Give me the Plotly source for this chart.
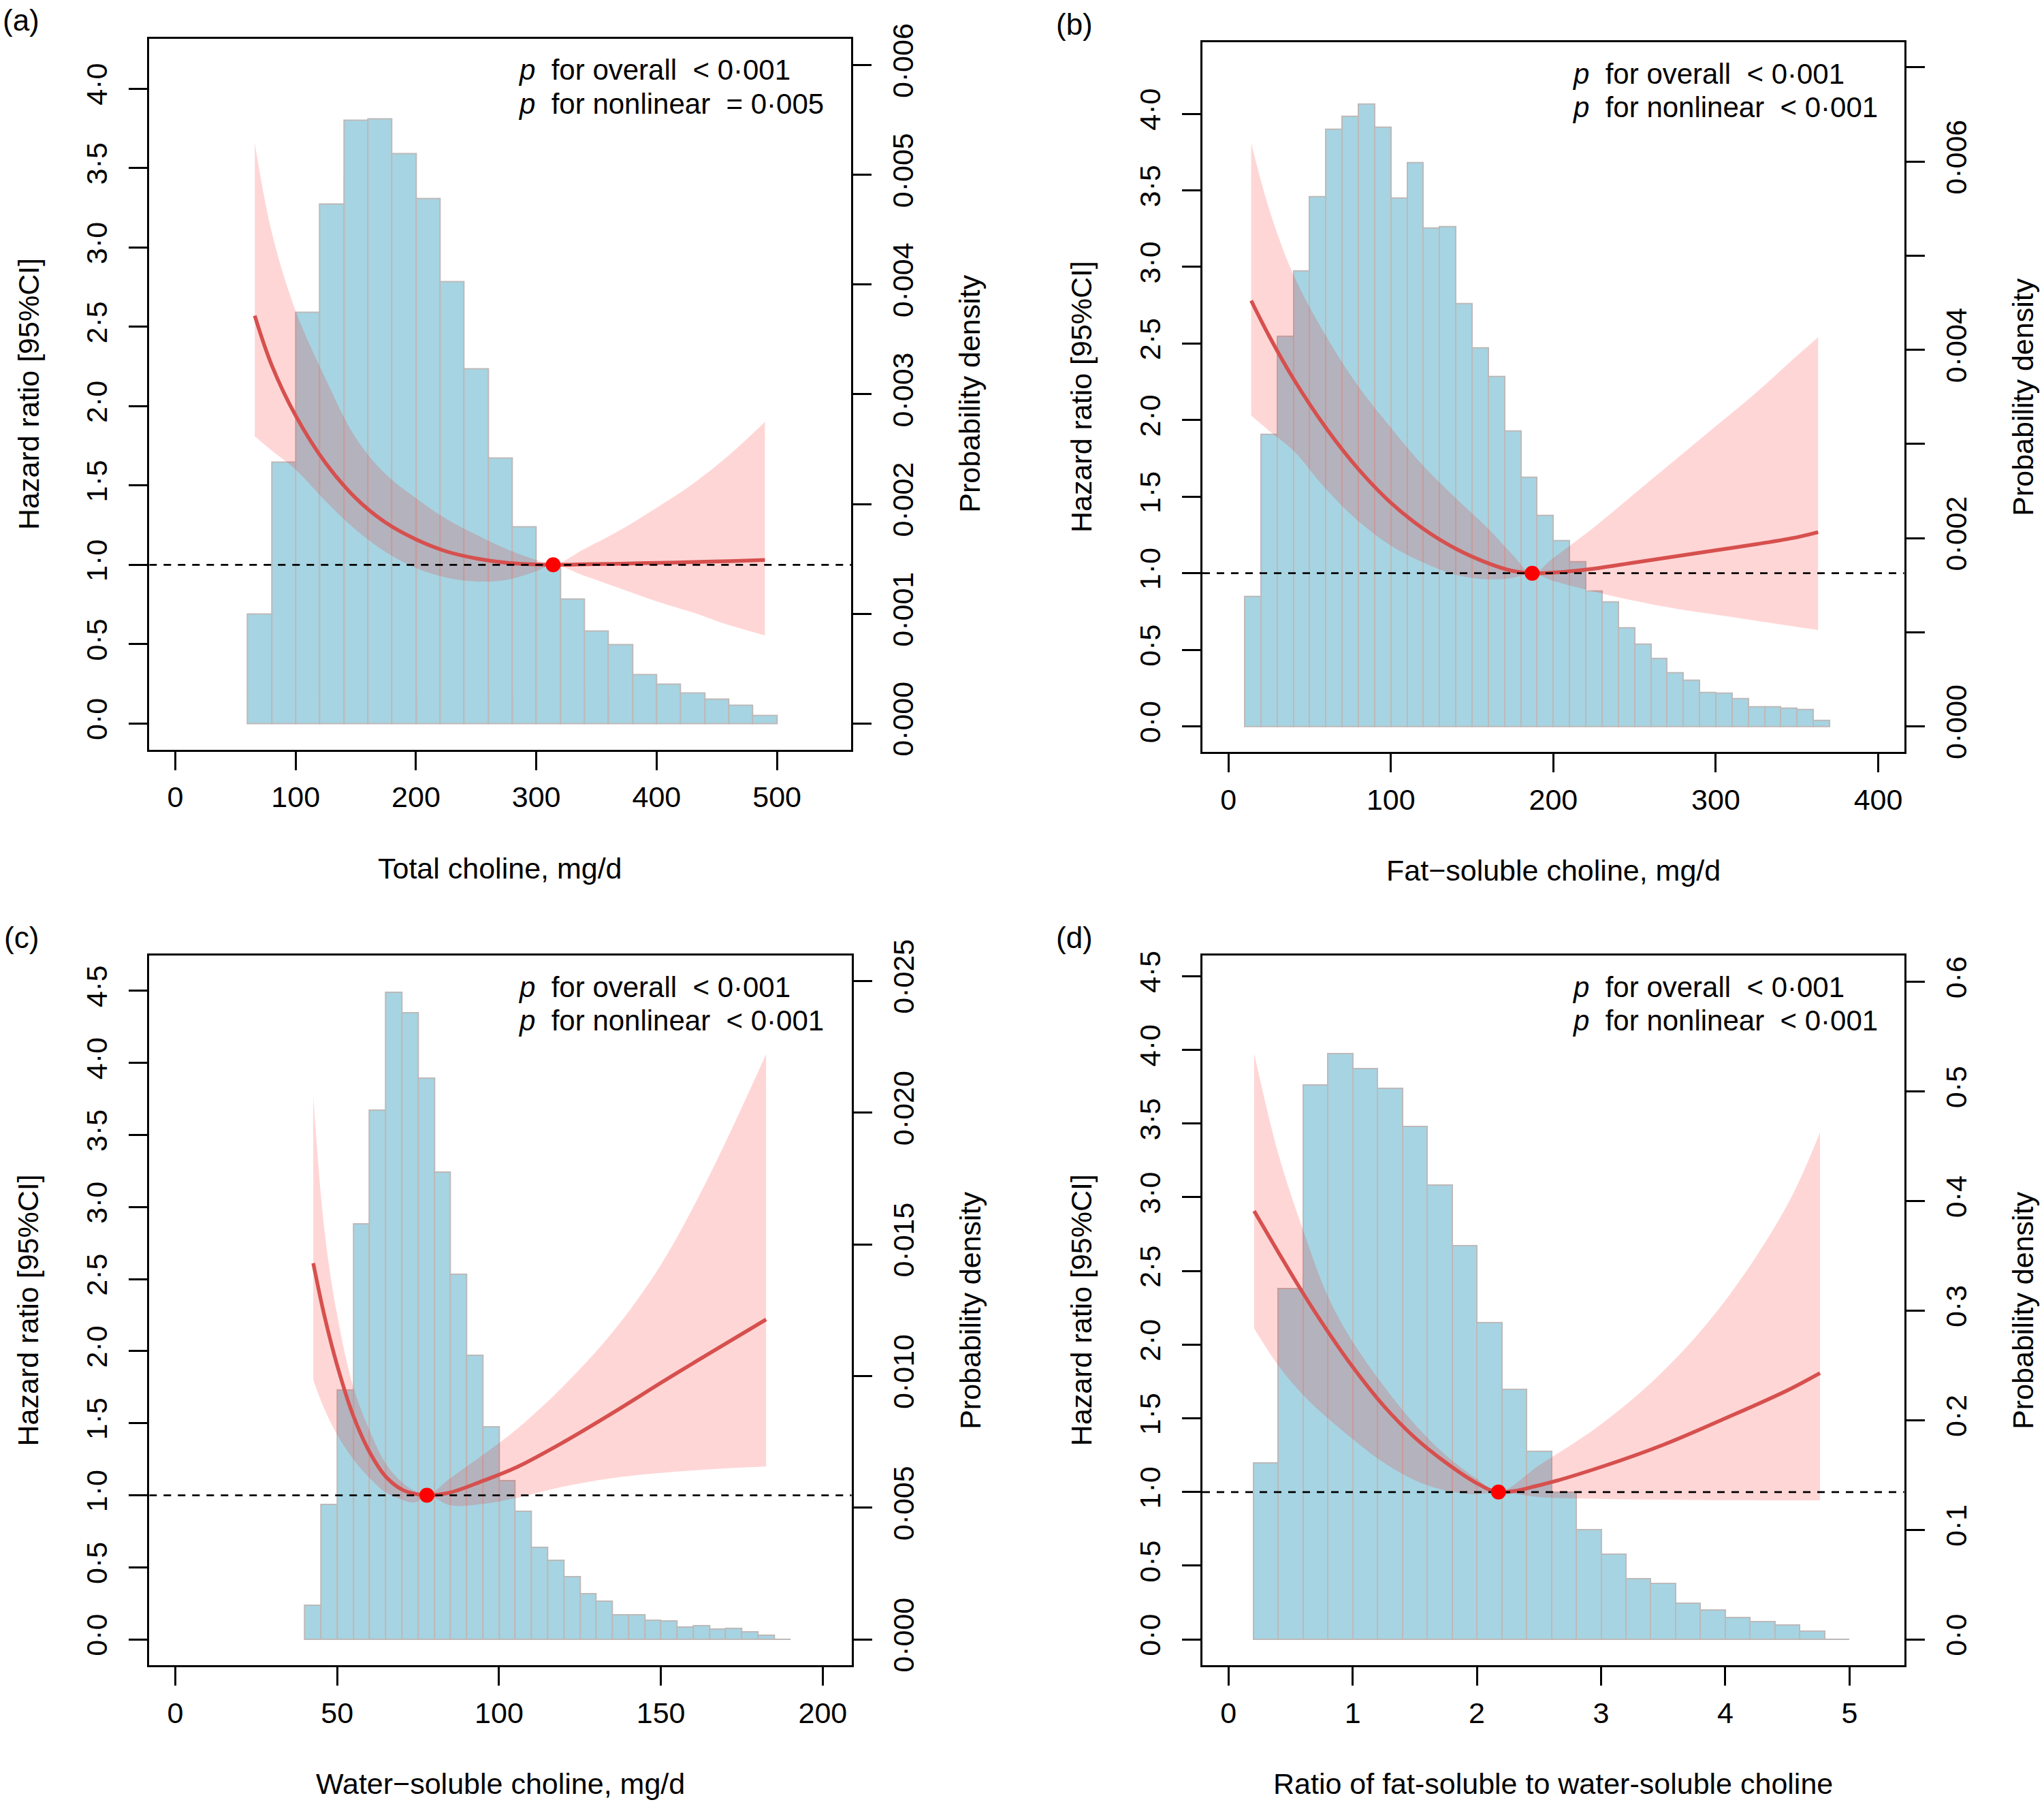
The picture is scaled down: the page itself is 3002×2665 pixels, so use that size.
import plotly.graph_objects as go

W, H = 3002, 2665
FONT = "Liberation Sans, Arial, sans-serif"

# ---------------- data ----------------
# (a) Total choline
a_bin_left = [60, 80, 100, 120, 140, 160, 180, 200, 220, 240, 260, 280, 300, 320, 340, 360, 380, 400, 420, 440, 460, 480]
a_bin_width = 20
a_density = [0.00100, 0.00238, 0.003747, 0.004733, 0.005496, 0.005511, 0.005196, 0.004784, 0.004027, 0.003233, 0.00242,
             0.00179, 0.001439, 0.001134, 0.000844, 0.000717, 0.000447, 0.000356, 0.00028, 0.000224, 0.000163, 0.000071]
a_x = [66, 80, 100, 125, 150, 175, 200, 225, 250, 275, 300, 314, 340, 370, 400, 430, 460, 490]
a_hr = [2.57, 2.26, 1.94, 1.64, 1.42, 1.265, 1.16, 1.085, 1.04, 1.013, 1.002, 1.0, 1.003, 1.007, 1.012, 1.017, 1.023, 1.03]
a_up = [3.66, 3.1, 2.6, 2.17, 1.8, 1.57, 1.42, 1.29, 1.19, 1.10, 1.03, 1.0, 1.1, 1.22, 1.36, 1.51, 1.69, 1.9]
a_lo = [1.81, 1.72, 1.6, 1.4, 1.22, 1.08, 0.98, 0.92, 0.895, 0.905, 0.96, 1.0, 0.93, 0.85, 0.77, 0.7, 0.62, 0.555]
a_ref = 314

# (b) Fat-soluble choline
b_bin_left = list(range(10, 370, 10))
b_bin_width = 10
b_density = [0.001382, 0.003102, 0.004146, 0.00484, 0.005629, 0.006346, 0.006483, 0.006613, 0.006364, 0.005611, 0.00599,
             0.005297, 0.005308, 0.00449, 0.004021, 0.003719, 0.003138, 0.002645, 0.002242, 0.001975, 0.00175, 0.001441,
             0.001323, 0.00105, 0.000872, 0.000718, 0.000569, 0.000492, 0.000362, 0.00035, 0.000291, 0.000208, 0.000208,
             0.00019, 0.000178, 0.000065]
b_x = [14, 25, 40, 60, 80, 100, 120, 140, 160, 175, 187, 200, 225, 250, 275, 300, 325, 350, 363]
b_hr = [2.78, 2.55, 2.27, 1.95, 1.68, 1.46, 1.29, 1.16, 1.065, 1.015, 1.0, 1.004, 1.03, 1.07, 1.11, 1.15, 1.19, 1.235, 1.268]
b_up = [3.81, 3.38, 2.95, 2.55, 2.22, 1.95, 1.7, 1.49, 1.29, 1.12, 1.0, 1.1, 1.3, 1.52, 1.74, 1.96, 2.18, 2.42, 2.54]
b_lo = [2.03, 1.93, 1.8, 1.55, 1.34, 1.18, 1.07, 0.99, 0.96, 0.97, 1.0, 0.95, 0.88, 0.82, 0.77, 0.73, 0.69, 0.65, 0.63]
b_ref = 187

# (c) Water-soluble choline
c_bin_left = list(range(40, 190, 5))
c_bin_width = 5
c_density = [0.001307, 0.005118, 0.009473, 0.015788, 0.0201, 0.024564, 0.0238, 0.0213, 0.017748, 0.013872, 0.010801,
             0.008079, 0.006032, 0.004856, 0.003506, 0.003005, 0.002395, 0.001742, 0.001459, 0.000936, 0.000936,
             0.00074, 0.000719, 0.000479, 0.000523, 0.000392, 0.000414, 0.000283, 0.000174, 0.00002]
c_x = [42.6, 46, 50, 55, 60, 65, 70, 74, 77.7, 85, 95, 105, 120, 135, 150, 165, 182.5]
c_hr = [2.61, 2.25, 1.9, 1.55, 1.3, 1.13, 1.04, 1.01, 1.0, 1.02, 1.10, 1.19, 1.37, 1.57, 1.78, 1.985, 2.22]
c_up = [3.77, 2.85, 2.25, 1.75, 1.45, 1.22, 1.09, 1.03, 1.0, 1.12, 1.28, 1.45, 1.76, 2.13, 2.6, 3.22, 4.06]
c_lo = [1.80, 1.6, 1.42, 1.25, 1.12, 1.02, 0.97, 0.95, 1.0, 0.93, 0.94, 0.98, 1.06, 1.12, 1.155, 1.18, 1.2]
c_ref = 77.7

# (d) Ratio of fat-soluble to water-soluble choline
d_bin_left = [0.2, 0.4, 0.6, 0.8, 1.0, 1.2, 1.4, 1.6, 1.8, 2.0, 2.2, 2.4, 2.6, 2.8, 3.0, 3.2, 3.4, 3.6, 3.8, 4.0, 4.2, 4.4, 4.6, 4.8]
d_bin_width = 0.2
d_density = [0.161, 0.3204, 0.506, 0.5348, 0.5212, 0.5029, 0.4679, 0.4145, 0.3591, 0.2891, 0.2284, 0.172, 0.1343,
             0.1004, 0.0779, 0.0554, 0.0512, 0.0329, 0.0267, 0.0204, 0.0162, 0.0131, 0.0078, 0.0005]
d_x = [0.207, 0.4, 0.6, 0.8, 1.0, 1.25, 1.5, 1.75, 2.0, 2.174, 2.5, 3.0, 3.5, 4.0, 4.5, 4.762]
d_hr = [2.907, 2.63, 2.35, 2.09, 1.85, 1.585, 1.37, 1.2, 1.06, 1.0, 1.045, 1.17, 1.32, 1.5, 1.69, 1.807]
d_up = [3.976, 3.3, 2.78, 2.33, 2.02, 1.72, 1.46, 1.25, 1.09, 1.0, 1.18, 1.46, 1.82, 2.3, 2.95, 3.44]
d_lo = [2.11, 1.86, 1.66, 1.5, 1.36, 1.2, 1.08, 1.01, 0.985, 1.0, 0.966, 0.953, 0.948, 0.945, 0.944, 0.944]
d_ref = 2.174

ref_hr = 1.0

hr_ticks_a = [0, 0.5, 1.0, 1.5, 2.0, 2.5, 3.0, 3.5, 4.0]
hr_ticks_c = [0, 0.5, 1.0, 1.5, 2.0, 2.5, 3.0, 3.5, 4.0, 4.5]
dens_ticks_a = [0, 0.001, 0.002, 0.003, 0.004, 0.005, 0.006]
dens_text_a = ["0·000", "0·001", "0·002", "0·003", "0·004", "0·005", "0·006"]
dens_ticks_b = [0, 0.001, 0.002, 0.003, 0.004, 0.005, 0.006, 0.007]
dens_text_b = ["0·000", "", "0·002", "", "0·004", "", "0·006", ""]
dens_ticks_c = [0, 0.005, 0.010, 0.015, 0.020, 0.025]
dens_text_c = ["0·000", "0·005", "0·010", "0·015", "0·020", "0·025"]
dens_ticks_d = [0, 0.1, 0.2, 0.3, 0.4, 0.5, 0.6]
dens_text_d = ["0·0", "0·1", "0·2", "0·3", "0·4", "0·5", "0·6"]
x_ticks_a = [0, 100, 200, 300, 400, 500]
x_ticks_b = [0, 100, 200, 300, 400]
x_ticks_c = [0, 50, 100, 150, 200]
x_ticks_d = [0, 1, 2, 3, 4, 5]

x_titles = ["Total choline, mg/d", "Fat\u2212soluble choline, mg/d",
            "Water\u2212soluble choline, mg/d", "Ratio of fat-soluble to water-soluble choline"]
panel_labels = ["(a)", "(b)", "(c)", "(d)"]
p_lines = [("< 0·001", "= 0·005"), ("< 0·001", "< 0·001"), ("< 0·001", "< 0·001"), ("< 0·001", "< 0·001")]

# ---------------- layout geometry (pixels) ----------------
boxes = [  # left, right, top, bottom
    (219.3, 1250.0, 33.0, 1090.7),
    (1766.0, 2796.7, 38.3, 1094.3),
    (219.3, 1250.7, 1396.7, 2452.7),
    (1766.0, 2796.7, 1396.7, 2452.7),
]
x_ranges = [[-21.6, 561.6], [-16, 416], [-8.04, 208.9], [-0.209, 5.44]]
hr_ranges = [[-0.165, 4.316], [-0.168, 4.468], [-0.1805, 4.745], [-0.1766, 4.641]]
dens_ranges = [[-0.000239, 0.006242], [-0.000274, 0.007269], [-0.000988, 0.025965], [-0.02374, 0.6241]]

panels = [
    dict(bl=a_bin_left, bw=a_bin_width, dens=a_density, x=a_x, hr=a_hr, up=a_up, lo=a_lo, ref=a_ref,
         hrt=hr_ticks_a, dt=dens_ticks_a, dtt=dens_text_a, xt=x_ticks_a),
    dict(bl=b_bin_left, bw=b_bin_width, dens=b_density, x=b_x, hr=b_hr, up=b_up, lo=b_lo, ref=b_ref,
         hrt=hr_ticks_a, dt=dens_ticks_b, dtt=dens_text_b, xt=x_ticks_b),
    dict(bl=c_bin_left, bw=c_bin_width, dens=c_density, x=c_x, hr=c_hr, up=c_up, lo=c_lo, ref=c_ref,
         hrt=hr_ticks_c, dt=dens_ticks_c, dtt=dens_text_c, xt=x_ticks_c),
    dict(bl=d_bin_left, bw=d_bin_width, dens=d_density, x=d_x, hr=d_hr, up=d_up, lo=d_lo, ref=d_ref,
         hrt=hr_ticks_c, dt=dens_ticks_d, dtt=dens_text_d, xt=x_ticks_d),
]

BAR_FILL = "#A6D4E2"
BAR_EDGE = "#BDB9B9"
BAND = "rgba(255,0,0,0.16)"
CURVE = "#D6504E"
LW = 2.7
FS = 43

fig = go.Figure()
layout = dict(width=W, height=H, margin=dict(l=0, r=0, t=0, b=0), autosize=False,
              paper_bgcolor="white", plot_bgcolor="rgba(0,0,0,0)", showlegend=False,
              bargap=0, font=dict(family=FONT, size=FS, color="black"))
annotations = []

def px2fx(px):
    return px / W

def px2fy(py):
    return 1 - py / H

SPL = dict(shape="spline", smoothing=1.0)

for i, p in enumerate(panels):
    k = i + 1
    xa = "x" if k == 1 else f"x{k}"
    yd = "y" if k == 1 else f"y{2*k-1}"
    yh = f"y{2*k}"
    xkey = "xaxis" if k == 1 else f"xaxis{k}"
    ydkey = "yaxis" if k == 1 else f"yaxis{2*k-1}"
    yhkey = f"yaxis{2*k}"
    L, R, T, B = boxes[i]

    centers = [bl + p["bw"] / 2 for bl in p["bl"]]
    fig.add_trace(go.Bar(x=centers, y=p["dens"], width=[p["bw"]] * len(centers),
                         marker=dict(color=BAR_FILL, line=dict(color=BAR_EDGE, width=2)),
                         xaxis=xa, yaxis=yd, hoverinfo="skip"))
    fig.add_trace(go.Scatter(x=p["x"], y=p["lo"], mode="lines", line=dict(width=0, **SPL),
                             xaxis=xa, yaxis=yh, hoverinfo="skip"))
    fig.add_trace(go.Scatter(x=p["x"], y=p["up"], mode="lines", line=dict(width=0, **SPL),
                             fill="tonexty", fillcolor=BAND, xaxis=xa, yaxis=yh, hoverinfo="skip"))
    fig.add_trace(go.Scatter(x=p["x"], y=p["hr"], mode="lines",
                             line=dict(color=CURVE, width=5.5, **SPL),
                             xaxis=xa, yaxis=yh))
    fig.add_trace(go.Scatter(x=x_ranges[i], y=[ref_hr, ref_hr], mode="lines",
                             line=dict(color="black", width=2.8, dash="11px,10px"),
                             xaxis=xa, yaxis=yh, hoverinfo="skip"))
    fig.add_trace(go.Scatter(x=[p["ref"]], y=[ref_hr], mode="markers",
                             marker=dict(color="#FF0000", size=22, line=dict(width=0)),
                             xaxis=xa, yaxis=yh))

    dom_x = [px2fx(L), px2fx(R)]
    dom_y = [px2fy(B), px2fy(T)]
    tickfont = dict(family=FONT, size=FS, color="black")
    layout[xkey] = dict(domain=dom_x, range=x_ranges[i], anchor=yd, showline=True, mirror=True,
                        linecolor="black", linewidth=LW, ticks="outside", ticklen=27, tickwidth=LW,
                        tickcolor="black", tickvals=p["xt"], ticktext=[str(v) for v in p["xt"]],
                        tickfont=tickfont, showgrid=False, zeroline=False, ticklabelstandoff=3)
    layout[ydkey] = dict(domain=dom_y, range=dens_ranges[i], anchor=xa, side="right", showline=True,
                         linecolor="black", linewidth=LW, ticks="outside", ticklen=27, tickwidth=LW,
                         tickcolor="black", tickvals=p["dt"], ticktext=p["dtt"], tickangle=-90,
                         tickfont=tickfont, showgrid=False, zeroline=False, ticklabelstandoff=10)
    layout[yhkey] = dict(range=hr_ranges[i], anchor=xa, overlaying=yd, side="left", showline=True,
                         linecolor="black", linewidth=LW, ticks="outside", ticklen=27, tickwidth=LW,
                         tickcolor="black", tickvals=p["hrt"], ticktext=[f"{v:.1f}".replace(".", "·") for v in p["hrt"]],
                         tickangle=-90, tickfont=tickfont, showgrid=False, zeroline=False, ticklabelstandoff=15)

    # axis titles
    annotations.append(dict(text="Hazard ratio [95%CI]", x=px2fx(L - 178), y=px2fy((T + B) / 2), xref="paper",
                            yref="paper", textangle=-90, showarrow=False, xanchor="center", yanchor="middle",
                            font=dict(family=FONT, size=FS, color="black")))
    annotations.append(dict(text="Probability density", x=px2fx(R + 174), y=px2fy((T + B) / 2), xref="paper",
                            yref="paper", textangle=-90, showarrow=False, xanchor="center", yanchor="middle",
                            font=dict(family=FONT, size=FS, color="black")))
    annotations.append(dict(text=x_titles[i], x=px2fx((L + R) / 2), y=px2fy(B + 176), xref="paper",
                            yref="paper", showarrow=False, xanchor="center", yanchor="middle",
                            font=dict(family=FONT, size=FS, color="black")))
    # panel label
    annotations.append(dict(text=panel_labels[i], x=px2fx(L - 188), y=px2fy(T - 27), xref="paper", yref="paper",
                            showarrow=False, xanchor="center", yanchor="middle",
                            font=dict(family=FONT, size=44, color="black")))
    # p-values
    pl = L + (758.7 - 219.3) if i in (0, 2) else L + (2307 - 1766)
    annotations.append(dict(text="<i>p</i>\u00a0 for overall\u00a0 " + p_lines[i][0], x=px2fx(pl),
                            y=px2fy(T + 47), xref="paper", yref="paper", showarrow=False,
                            xanchor="left", yanchor="middle", font=dict(family=FONT, size=42, color="black")))
    annotations.append(dict(text="<i>p</i>\u00a0 for nonlinear\u00a0 " + p_lines[i][1], x=px2fx(pl),
                            y=px2fy(T + 97), xref="paper", yref="paper", showarrow=False,
                            xanchor="left", yanchor="middle", font=dict(family=FONT, size=42, color="black")))

layout["annotations"] = annotations
fig.update_layout(**layout)
fig.write_html("out.html")
